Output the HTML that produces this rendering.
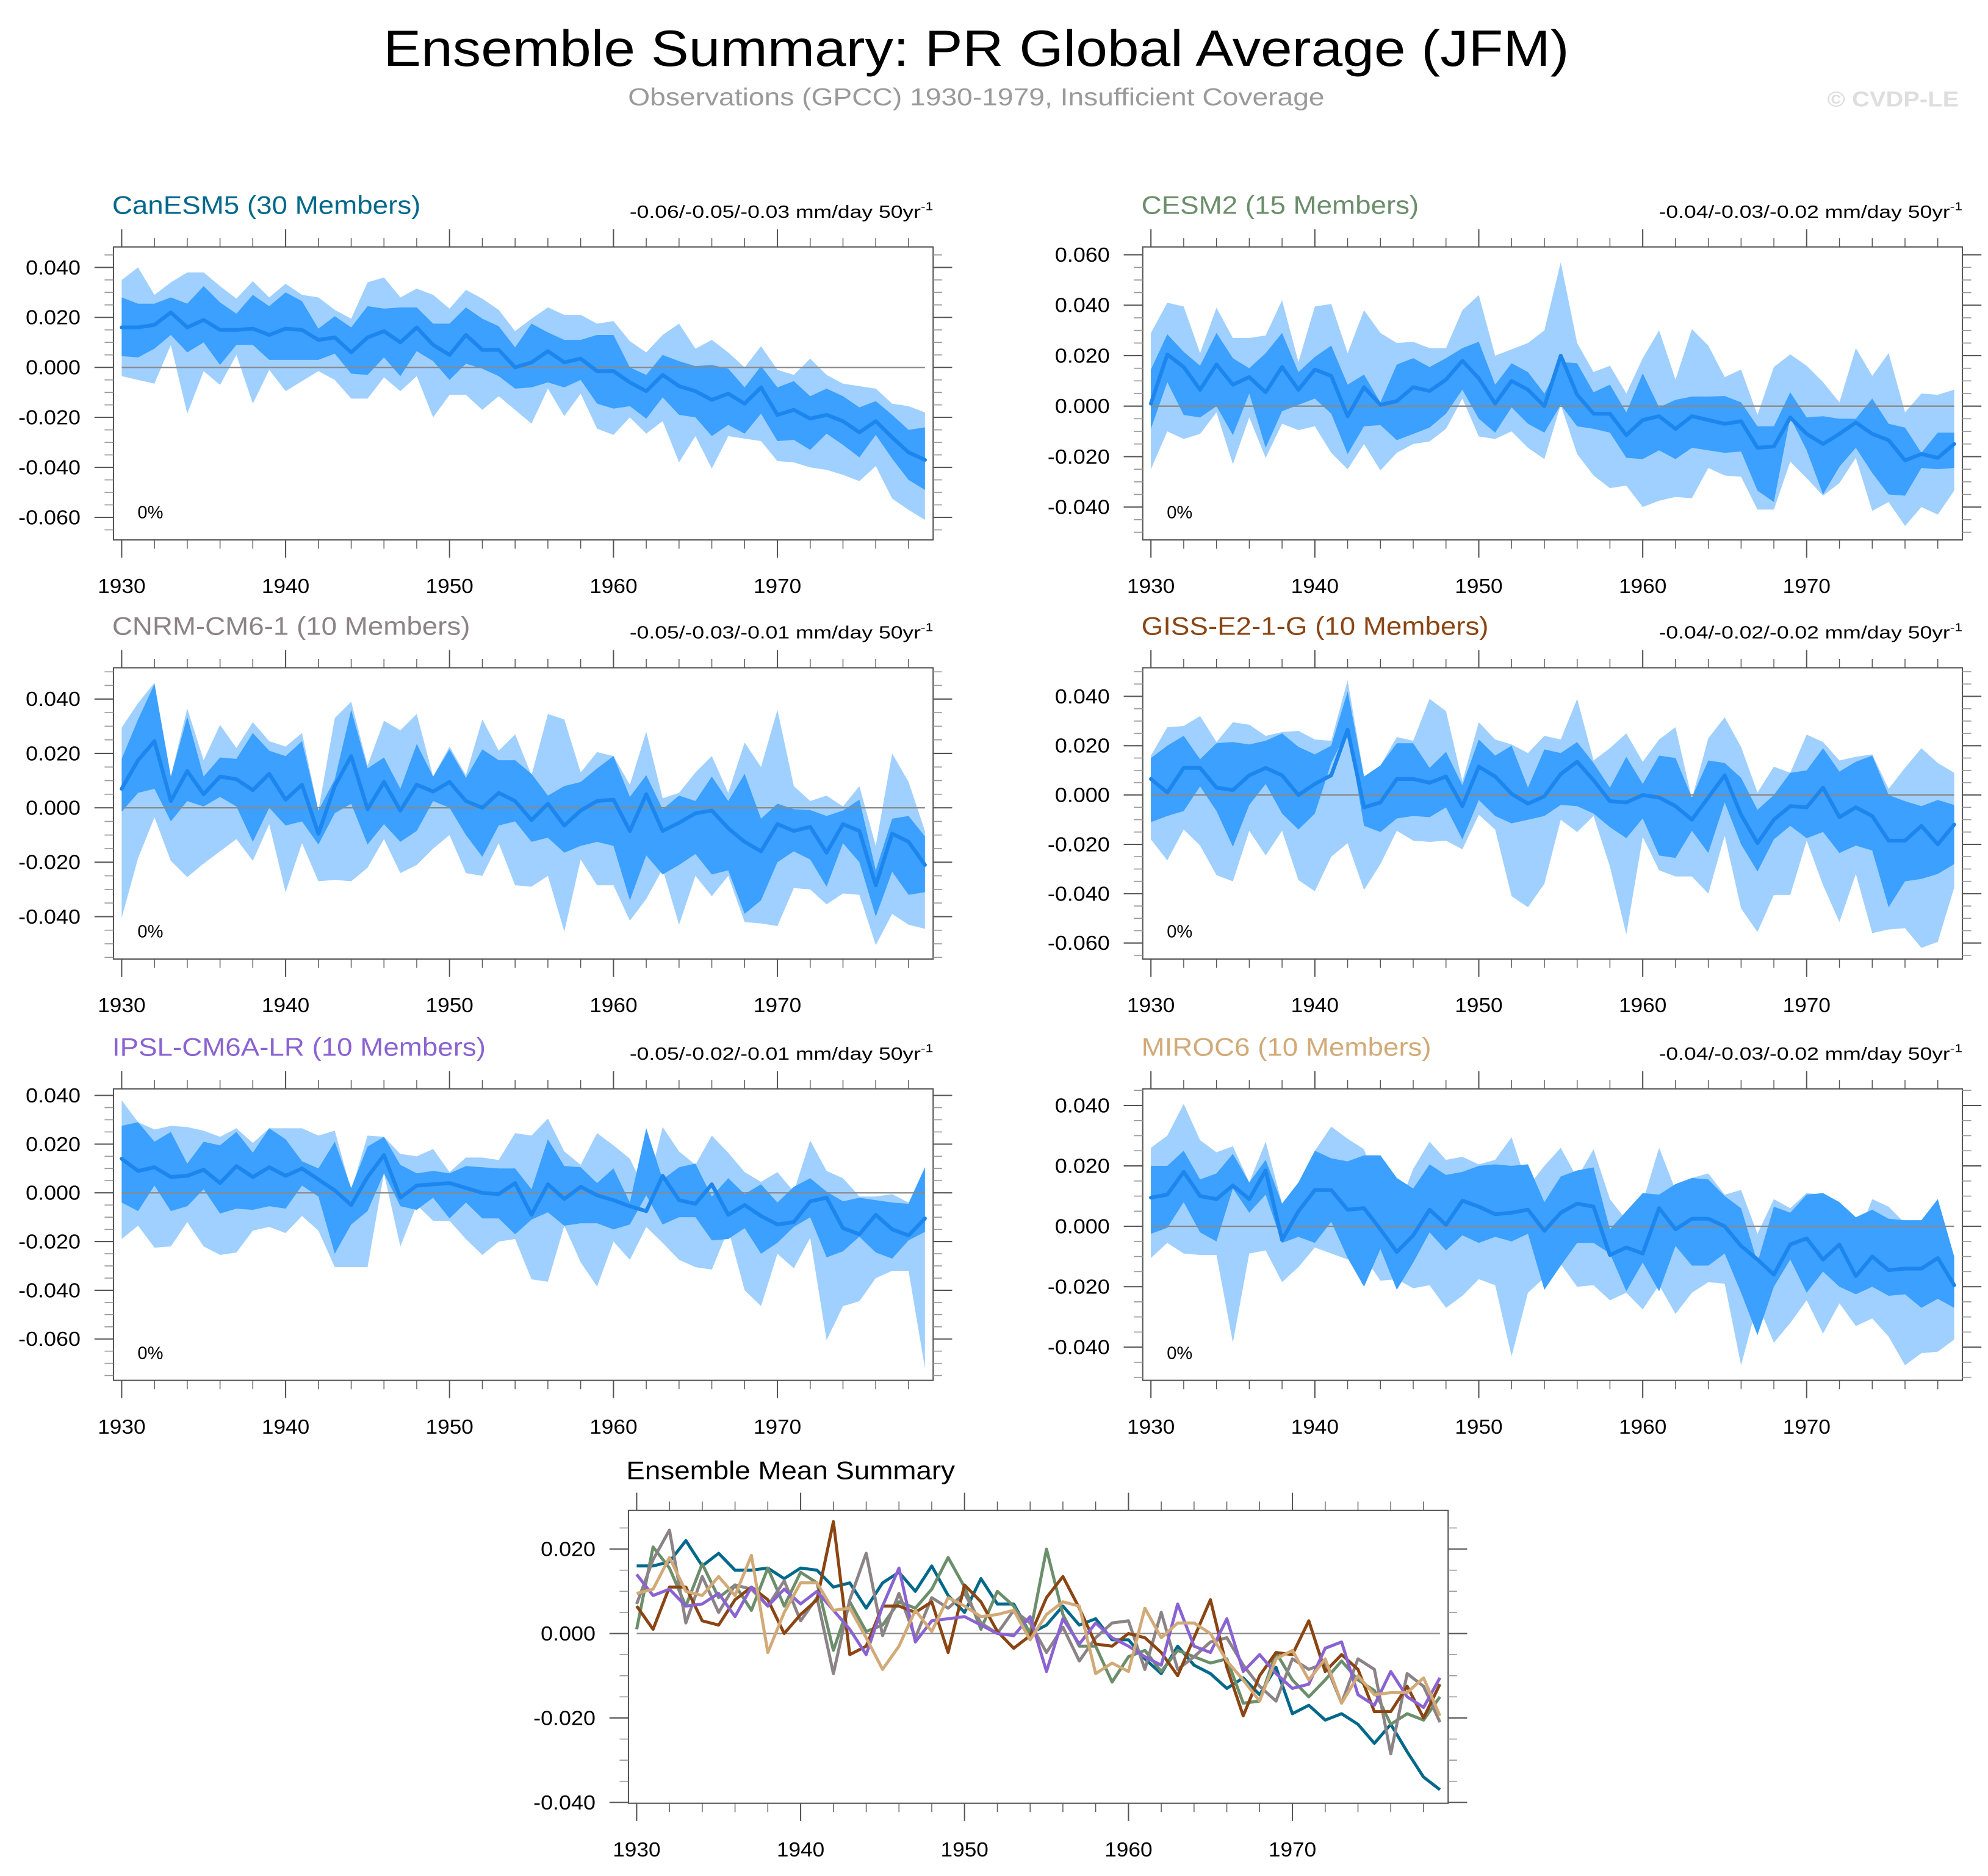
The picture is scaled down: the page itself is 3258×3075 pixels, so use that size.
<!DOCTYPE html>
<html><head><meta charset="utf-8"><title>Ensemble Summary: PR Global Average (JFM)</title>
<style>html,body{margin:0;padding:0;background:#fff}svg{display:block}text{font-family:"Liberation Sans",Arial,sans-serif}</style>
</head><body>
<svg id="chart" xmlns="http://www.w3.org/2000/svg" width="3258" height="3075" viewBox="0 0 1568 1480" preserveAspectRatio="none">
<rect width="1568" height="1480" fill="#fff"/>
<text id="mainTitle" x="770" y="52" font-size="40" text-anchor="middle" fill="#000">Ensemble Summary: PR Global Average (JFM)</text>
<text id="subTitle" x="770" y="83" font-size="19" text-anchor="middle" fill="#9a9a9a">Observations (GPCC) 1930-1979, Insufficient Coverage</text>
<text id="copyTxt" x="1545" y="84" font-size="17" font-weight="bold" text-anchor="end" fill="#dedede">© CVDP-LE</text>
<g id="plots"></g>
</svg>
<script>
const years = [];
for (let y = 1930; y <= 1979; y++) years.push(y);
const modelNames = ["CanESM5 (30 Members)","CESM2 (15 Members)","CNRM-CM6-1 (10 Members)","GISS-E2-1-G (10 Members)","IPSL-CM6A-LR (10 Members)","MIROC6 (10 Members)"];
const trendLabels = ["-0.06/-0.05/-0.03","-0.04/-0.03/-0.02","-0.05/-0.03/-0.01","-0.04/-0.02/-0.02","-0.05/-0.02/-0.01","-0.04/-0.03/-0.02"];
const modelColors = ["#00688b","#6b8e6b","#8b8386","#8b4513","#8a63d2","#d2aa78"];

const canMean=[.016,.016,.017,.022,.016,.019,.015,.015,.0155,.013,.0155,.015,.011,.012,.006,.012,.0145,.010,.016,.009,.005,.013,.007,.007,.000,.002,.0065,.002,.0035,-.0015,-.0015,-.006,-.0095,-.003,-.0075,-.0095,-.013,-.0105,-.0145,-.008,-.019,-.017,-.0205,-.019,-.0215,-.026,-.0215,-.028,-.034,-.037];
const canInHi=[.028,.0255,.0255,.028,.0255,.0325,.026,.0215,.029,.0245,.030,.0265,.0155,.0205,.016,.0245,.0235,.024,.024,.0175,.0175,.024,.0195,.0165,.008,.0175,.014,.011,.011,.013,.013,.000,-.003,.005,.0025,.0005,.001,-.0005,-.008,.0005,-.008,-.0055,-.0115,-.0085,-.0115,-.016,-.0135,-.019,-.025,-.024];
const canInLo=[.0045,.004,.0075,.013,.006,.010,.001,.009,.009,.003,.003,.003,.003,.0055,-.0025,-.003,.004,-.0035,.0065,.0025,-.005,.0015,-.0005,-.0035,-.0085,-.008,-.006,-.008,-.005,-.0145,-.0165,-.0155,-.0205,-.012,-.019,-.020,-.0275,-.023,-.0265,-.0185,-.0295,-.029,-.033,-.0265,-.031,-.036,-.027,-.0365,-.045,-.049];
const canOutHi=[.035,.040,.029,.034,.038,.038,.0325,.0275,.0345,.028,.0335,.029,.028,.023,.0195,.034,.036,.028,.0315,.029,.0235,.031,.0275,.023,.0145,.0195,.024,.021,.021,.0175,.0185,.0105,.006,.013,.0175,.0075,.011,.006,.000,.0085,-.001,-.003,.0035,-.003,-.0065,-.0075,-.0085,-.0145,-.0155,-.018];
const canOutLo=[-.0035,-.005,-.0065,.009,-.0185,-.0015,-.007,.005,-.0145,-.001,-.0095,-.0055,-.0015,-.005,-.0125,-.0125,-.004,-.0095,-.0035,-.020,-.011,-.011,-.017,-.0115,-.017,-.0225,-.0085,-.0195,-.0105,-.0245,-.027,-.020,-.0265,-.0215,-.038,-.0275,-.0405,-.0275,-.0285,-.0295,-.0375,-.038,-.040,-.041,-.043,-.0455,-.0395,-.0525,-.057,-.061];

const cesMean=[.001,.0205,.0155,.0065,.0165,.0085,.0115,.0055,.0155,.0065,.0145,.012,-.004,.0075,.0005,.002,.0075,.006,.0105,.018,.011,.001,.010,.0065,.000,.020,.0045,-.003,-.003,-.0115,-.0055,-.004,-.009,-.004,-.0055,-.007,-.006,-.0165,-.016,-.0045,-.011,-.015,-.011,-.0065,-.011,-.0135,-.0215,-.019,-.0205,-.015];
const cesInHi=[.0145,.0285,.0215,.016,.029,.019,.015,.021,.029,.0135,.0195,.024,.0085,.0125,.0015,.0165,.019,.0155,.019,.023,.0255,.0085,.017,.0135,.005,.0175,.017,.0055,.0085,-.0025,.013,-.0005,.0025,.0038,.0038,.004,.0015,-.008,-.008,.0055,-.0045,-.004,-.005,-.005,.003,-.007,-.0085,-.0185,-.0105,-.0105];
const cesInLo=[-.009,.0095,-.0035,-.0045,.000,-.0115,.005,-.0165,-.002,.0005,.003,-.003,-.019,-.008,-.0075,-.0135,-.011,-.0085,-.003,.0065,-.005,-.0105,-.0005,-.007,-.0105,.0005,-.008,-.009,-.0105,-.0205,-.021,-.0175,-.021,-.0165,-.0175,-.0185,-.018,-.0335,-.038,-.0045,-.0175,-.035,-.024,-.0165,-.0265,-.035,-.0355,-.0245,-.025,-.0245];
const cesOutHi=[.029,.041,.0395,.021,.039,.027,.027,.028,.042,.0175,.0395,.0405,.021,.038,.029,.025,.0255,.023,.023,.038,.044,.020,.0225,.025,.030,.057,.025,.0135,.016,.005,.019,.030,.0105,.0305,.024,.0115,.0145,-.0035,.0155,.0205,.016,.0095,.0015,.023,.012,.021,-.0025,.005,.0045,.0065];
const cesOutLo=[-.025,-.010,-.013,-.011,-.0025,-.023,-.0045,-.0205,-.007,-.0095,-.008,-.0185,-.025,-.015,-.0255,-.0185,-.015,-.014,-.009,.003,-.012,-.013,-.010,-.0165,-.021,.0005,-.019,-.0275,-.0325,-.0315,-.040,-.0375,-.036,-.0365,-.0245,-.0275,-.028,-.041,-.041,-.022,-.0285,-.0355,-.0305,-.0205,-.0415,-.038,-.0475,-.040,-.043,-.0335];

const cnrMean=[.007,.0175,.0245,.0025,.0135,.005,.0115,.0105,.0065,.0125,.003,.0085,-.0095,.008,.019,-.0005,.0095,-.001,.0085,.006,.0095,.0025,.000,.0055,.0025,-.0045,.0015,-.0065,-.001,.0025,.003,-.0085,.005,-.0085,-.0055,-.002,-.001,-.0075,-.0125,-.016,-.006,-.0085,-.007,-.0165,-.006,-.0085,-.0285,-.0095,-.0125,-.021];
const cnrInHi=[.018,.0325,.0455,.0115,.0335,.0115,.0185,.018,.0275,.021,.019,.0245,-.001,.0105,.036,.0145,.0185,.007,.0235,.0115,.0215,.011,.0215,.0175,.0175,.0125,.0045,.008,.0095,.0145,.019,.004,.012,-.0005,.0045,.0025,.0115,.0025,.0125,-.004,.0015,-.0005,-.0008,-.003,-.001,.003,-.023,-.004,-.003,-.0105];
const cnrInLo=[-.0015,.0055,.007,-.005,.0025,.0005,.004,.0005,-.0125,.000,-.0065,-.005,-.0135,-.002,.0015,-.0135,-.006,-.0125,-.0085,.0025,.000,-.010,-.018,-.0065,-.005,-.0125,-.011,-.0165,-.014,-.0125,-.014,-.034,-.0175,-.0245,-.021,-.017,-.0245,-.023,-.039,-.034,-.020,-.016,-.019,-.029,-.013,-.020,-.040,-.0235,-.032,-.031];
const cnrOutHi=[.0295,.0385,.046,.0115,.0365,.0175,.0305,.022,.0315,.0245,.0225,.0275,-.001,.033,.039,.0155,.032,.0285,.0345,.0115,.0225,.012,.0325,.021,.027,.012,.0345,.0325,.013,.0205,.019,.0085,.028,.0035,.0055,.013,.019,.0055,.024,.015,.036,.008,.0025,.0045,.0005,.008,-.014,.020,.0095,-.0085];
const cnrOutLo=[-.0405,-.0185,-.0035,-.0195,-.0255,-.0205,-.016,-.0115,-.0195,-.006,-.031,-.013,-.027,-.0265,-.027,-.022,-.0115,-.024,-.021,-.015,-.010,-.024,-.025,-.013,-.0285,-.029,-.025,-.0455,-.019,-.0285,-.0285,-.0415,-.0335,-.0225,-.043,-.025,-.0325,-.025,-.042,-.0425,-.0435,-.0295,-.030,-.0355,-.0315,-.032,-.0505,-.039,-.043,-.0445];

const gisMean=[.0065,.001,.011,.011,.003,.002,.008,.011,.008,.000,.0045,.008,.0265,-.005,-.003,.0065,.0065,.005,.0075,-.0045,.0115,.0075,.0005,-.0035,-.0005,.0085,.0135,.006,-.0025,-.003,.000,-.001,-.0045,-.010,-.001,.008,-.008,-.0195,-.010,-.0045,-.005,.003,-.009,-.005,-.0085,-.0185,-.0185,-.0125,-.020,-.012];
const gisInHi=[.015,.020,.024,.0145,.021,.0215,.0205,.022,.025,.0195,.0165,.020,.042,.0075,.012,.021,.021,.011,.0175,.004,.0225,.016,.020,.003,.0185,.017,.0215,.013,.003,.0155,.0045,.016,.015,-.001,.014,.013,.007,-.006,.000,.009,.010,.019,.0095,.0135,.016,.000,-.0025,-.0045,-.002,-.004];
const gisInLo=[-.011,-.0085,-.0065,.0035,-.0065,-.021,-.004,.0045,-.0075,-.014,-.0075,.013,.0265,-.0125,-.015,-.0095,-.0085,-.009,-.005,-.018,-.002,-.0085,-.0115,-.010,-.0085,-.004,-.0045,-.0075,-.013,-.0175,-.0095,-.0245,-.0255,-.0145,-.0235,-.003,-.020,-.031,-.018,-.0125,-.0175,-.015,-.0235,-.0205,-.0225,-.0455,-.035,-.034,-.032,-.028];
const gisOutHi=[.016,.0275,.028,.032,.0215,.0295,.0285,.024,.0255,.026,.0225,.022,.0465,.0075,.012,.0235,.022,.039,.034,.0055,.0295,.0225,.0205,.017,.024,.0225,.039,.014,.019,.025,.0135,.0225,.0275,-.0015,.023,.0315,.0195,.001,.0115,.009,.0245,.0215,.014,.0155,.0165,.0025,.011,.019,.013,.009];
const gisOutLo=[-.018,-.0265,-.014,-.0205,-.0325,-.035,-.0145,-.0245,-.0145,-.0345,-.039,-.025,-.0195,-.0385,-.028,-.0145,-.0185,-.019,-.0185,-.022,-.008,-.014,-.041,-.0455,-.036,-.010,-.015,-.0085,-.029,-.0565,-.017,-.0305,-.033,-.033,-.040,-.0165,-.046,-.0555,-.0405,-.0405,-.0185,-.0365,-.0515,-.032,-.056,-.0545,-.054,-.062,-.0595,-.0375];

const ipsMean=[.014,.009,.0105,.0065,.007,.0095,.004,.011,.0065,.0105,.007,.010,.0055,.001,-.005,.0065,.0155,-.002,.003,.0035,.004,.002,.000,-.0005,.004,-.009,.0035,-.0025,.0025,-.001,-.003,-.0055,-.0075,.007,-.003,-.0045,.0035,-.009,-.005,-.0095,-.013,-.012,-.0035,-.002,-.0145,-.017,-.009,-.015,-.0175,-.0105];
const ipsInHi=[.0275,.029,.021,.025,.012,.021,.0195,.025,.0165,.0265,.022,.013,.010,.021,.002,.019,.023,.0115,.008,.009,.008,.011,.0105,.010,.010,.0015,.022,.011,.0105,.004,.010,-.004,.0265,.0055,.0105,.012,-.0015,.006,-.0005,.0035,-.004,.0025,.006,.0005,-.0035,-.002,-.003,-.004,-.0045,.0105];
const ipsInLo=[-.004,-.0075,.003,-.0075,-.0055,.0015,-.0085,-.0065,-.007,-.0055,-.0065,.003,-.0015,-.025,-.013,-.0075,.008,-.0055,-.007,-.002,-.0105,-.004,-.0105,-.0105,-.017,-.011,-.008,-.0135,-.0125,-.0125,-.015,-.013,-.001,-.013,-.010,-.010,-.0195,-.019,-.0145,-.025,-.0205,-.014,-.010,-.0265,-.024,-.018,-.0245,-.027,-.0195,-.016];
const ipsOutHi=[.038,.029,.026,.0275,.027,.0255,.023,.0265,.0205,.0265,.0265,.0265,.0235,.0255,.001,.0235,.023,.016,.015,.018,.0085,.0145,.0145,.0135,.0245,.0235,.0305,.017,.0115,.0245,.0195,.014,.000,.027,.017,.0115,.0235,.0165,.0085,.0045,.0085,.0005,.0215,.009,.006,-.0015,-.0015,-.0005,-.004,.0105];
const ipsOutLo=[-.019,-.0135,-.0225,-.022,-.012,-.022,-.0255,-.0245,-.0155,-.014,-.0165,-.0095,-.0155,-.0305,-.0305,-.0305,.008,-.022,-.005,-.0115,-.0115,-.019,-.0255,-.020,-.019,-.0355,-.0365,-.0135,-.0285,-.0385,-.020,-.0275,-.014,-.0205,-.0275,-.0305,-.0315,-.015,-.040,-.0465,-.025,-.031,-.0185,-.0605,-.0465,-.0445,-.035,-.032,-.032,-.072];

const mirMean=[.0095,.0105,.018,.010,.009,.0135,.009,.0185,-.0045,.005,.012,.012,.0055,.006,-.001,-.0085,-.003,.0055,.0005,.0085,.0065,.004,.0045,.0055,-.0015,.0045,.0075,.0065,-.0095,-.007,-.009,.006,-.001,.0025,.0025,.000,-.0065,-.011,-.016,-.006,-.004,-.011,-.006,-.0165,-.010,-.0145,-.014,-.014,-.0105,-.0195];
const mirInHi=[.020,.020,.025,.0155,.0175,.024,.0145,.022,.0075,.0145,.025,.0225,.0215,.0235,.0235,.016,.0125,.0205,.017,.018,.020,.0205,.020,.0205,.008,.0165,.0185,.0195,-.001,.005,.011,.0105,.014,.016,.0155,.010,.006,-.012,.0065,.0045,.0105,.011,.008,.003,.0055,.0025,.002,.002,.009,-.010];
const mirInLo=[-.0025,-.0005,.008,-.002,-.005,.0125,.0045,.0105,-.0055,-.0035,-.0055,.0015,-.0105,-.020,-.0075,-.021,-.012,-.002,-.008,-.003,-.0055,-.0035,-.005,-.0025,-.021,-.013,-.0055,-.0055,-.009,-.0215,-.012,-.0215,-.0065,-.013,-.013,-.009,-.022,-.036,-.020,-.011,-.022,-.015,-.020,-.0225,-.020,-.023,-.0225,-.027,-.024,-.027];
const mirOutHi=[.026,.030,.0405,.0285,.0245,.0265,.0145,.028,.0075,.0145,.025,.033,.029,.0255,.0105,.005,.019,.028,.022,.023,.0205,.022,.0295,.013,.020,.026,.016,.0255,.009,.002,.008,.026,.012,.016,.0175,.0105,.012,-.0025,.009,.006,.011,.0105,.008,-.005,.009,.0065,.001,.0005,.009,-.011];
const mirOutLo=[-.0105,-.0055,-.009,-.0095,-.0095,-.0385,-.009,-.008,-.0185,-.0135,-.007,-.009,-.011,-.010,-.018,-.0175,-.0205,-.0195,-.027,-.023,-.0175,-.0195,-.043,-.022,-.017,-.0125,-.020,-.0195,-.0245,-.022,-.0275,-.0195,-.029,-.022,-.0185,-.019,-.046,-.0255,-.0385,-.032,-.0245,-.0355,-.0255,-.033,-.0305,-.0365,-.046,-.042,-.0415,-.0375];

const meansList=[canMean,cesMean,cnrMean,gisMean,ipsMean,mirMean];
const inHiList=[canInHi,cesInHi,cnrInHi,gisInHi,ipsInHi,mirInHi];
const inLoList=[canInLo,cesInLo,cnrInLo,gisInLo,ipsInLo,mirInLo];
const outHiList=[canOutHi,cesOutHi,cnrOutHi,gisOutHi,ipsOutHi,mirOutHi];
const outLoList=[canOutLo,cesOutLo,cnrOutLo,gisOutLo,ipsOutLo,mirOutLo];

const NS="http://www.w3.org/2000/svg";
const root=document.getElementById('plots');
function mk(tag,attrs,parent){const e=document.createElementNS(NS,tag);for(const k in attrs)e.setAttribute(k,attrs[k]);(parent||root).appendChild(e);return e;}
function stretch(el,f){try{const w=el.getComputedTextLength();if(w>0){el.setAttribute('textLength',(w*f).toFixed(1));el.setAttribute('lengthAdjust','spacingAndGlyphs');}}catch(e){}}

stretch(document.getElementById('mainTitle'),1.117);
stretch(document.getElementById('subTitle'),1.17);
stretch(document.getElementById('copyTxt'),1.13);

const panels=[
 {l:89.5,t:194.8,b:425.9,ymax:.0482,ymin:-.0690},
 {l:901.3,t:194.8,b:425.9,ymax:.0631,ymin:-.0530},
 {l:89.5,t:526.8,b:756.6,ymax:.0515,ymin:-.0556},
 {l:901.3,t:526.8,b:756.6,ymax:.0516,ymin:-.0665},
 {l:89.5,t:859,b:1089,ymax:.0427,ymin:-.0770},
 {l:901.3,t:859,b:1089,ymax:.0455,ymin:-.0510}
];
const W=646.5;

function drawAxes(g,p){
  const r=p.l+W;
  const xs=v=>p.l+(v-1929.5)/50*W;
  const ys=v=>p.t+(p.ymax-v)/(p.ymax-p.ymin)*(p.b-p.t);
  const z=mk('line',{x1:xs(1930),x2:xs(1979),y1:ys(0),y2:ys(0),stroke:'#8a8a8a','stroke-width':1.1},g);
  
  
  const f=mk('rect',{x:p.l,y:p.t,width:W,height:p.b-p.t,fill:'none',stroke:'#555','stroke-width':1},g);
  
  
  for(let y=1930;y<=1979;y+=2){
    const major=(y%10===0);const len=major?14:7;const x=xs(y);
    mk('line',{x1:x,x2:x,y1:p.t,y2:p.t-len,stroke:'#555','stroke-width':major?1:0.7},g);
    mk('line',{x1:x,x2:x,y1:p.b,y2:p.b+len,stroke:'#555','stroke-width':major?1:0.7},g);
    if(major){
      const t=mk('text',{x:x,y:p.b+42,'font-size':16,'text-anchor':'middle',fill:'#000'},g);
      t.textContent=y;
      
      
      stretch(t,1.06);
    }
  }
  const lo=Math.ceil(p.ymin/0.005-1e-6),hi=Math.floor(p.ymax/0.005+1e-6);
  for(let k=lo;k<=hi;k++){
    const v=k*0.005;const major=(k%4===0);const len=major?15:7;const y=ys(v);
    mk('line',{x1:p.l,x2:p.l-len,y1:y,y2:y,stroke:major?'#555':'#999','stroke-width':major?1:0.8},g);
    mk('line',{x1:r,x2:r+len,y1:y,y2:y,stroke:major?'#555':'#999','stroke-width':major?1:0.8},g);
    if(major){
      const t=mk('text',{x:p.l-26,y:y+5.5,'font-size':16,'text-anchor':'end',fill:'#000'},g);
      t.textContent=(Math.abs(v)<1e-9?0:v).toFixed(3);
      
      
      stretch(t,1.08);
    }
  }
  return {xs,ys};
}

function bandPath(xs,ys,hi,lo){
  let d='';
  years.forEach((yr,i)=>{d+=(i?'L':'M')+xs(yr).toFixed(2)+','+ys(hi[i]).toFixed(2);});
  for(let i=years.length-1;i>=0;i--)d+='L'+xs(years[i]).toFixed(2)+','+ys(lo[i]).toFixed(2);
  return d+'Z';
}
function linePath(xs,ys,vals){
  let d='';years.forEach((yr,i)=>{d+=(i?'L':'M')+xs(yr).toFixed(2)+','+ys(vals[i]).toFixed(2);});return d;
}

panels.forEach((p,m)=>{
  const g=mk('g',{});
  
  
  const ax={xs:v=>p.l+(v-1929.5)/50*W,ys:v=>p.t+(p.ymax-v)/(p.ymax-p.ymin)*(p.b-p.t)};
  const ob=mk('path',{d:bandPath(ax.xs,ax.ys,outHiList[m],outLoList[m]),fill:'#a0d0ff'},g);
  
  
  const ib=mk('path',{d:bandPath(ax.xs,ax.ys,inHiList[m],inLoList[m]),fill:'#3ba0ff'},g);
  
  
  drawAxes(g,p);
  const ml=mk('path',{d:linePath(ax.xs,ax.ys,meansList[m]),fill:'none',stroke:'#1c86ee','stroke-width':3,'stroke-linejoin':'round','stroke-linecap':'round'},g);
  
  
  const tt=mk('text',{x:p.l-1,y:p.t-26,'font-size':20,fill:modelColors[m]},g);
  tt.textContent=modelNames[m];
  
  
  stretch(tt,1.10);
  const tr=mk('text',{x:p.l+W,y:p.t-23,'font-size':14,'text-anchor':'end',fill:'#000'},g);
  tr.innerHTML=trendLabels[m]+' mm/day 50yr<tspan dy="-6" font-size="9">-1</tspan>';
  
  
  stretch(tr,1.22);
  const pc=mk('text',{x:p.l+19,y:p.b-17,'font-size':14,fill:'#000'},g);
  pc.textContent='0%';
  
  
});

const sp={l:495.7,t:1191.6,b:1422.6,ymax:.02915,ymin:-.0402};
const sg=mk('g',{});


const sax=drawAxes(sg,sp);
meansList.forEach((vals,m)=>{
  const l=mk('path',{d:linePath(sax.xs,sax.ys,vals),fill:'none',stroke:modelColors[m],'stroke-width':2.4,'stroke-linejoin':'round'},sg);
  
  
});
const st=mk('text',{x:494,y:1167,'font-size':20,fill:'#000'},sg);
st.textContent='Ensemble Mean Summary';


stretch(st,1.10);
</script>
</body></html>
